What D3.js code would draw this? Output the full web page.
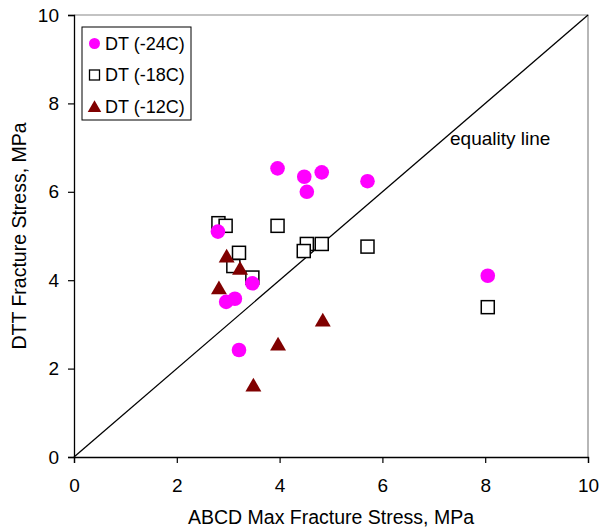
<!DOCTYPE html>
<html>
<head>
  <script src="https://d3js.org/d3.v7.min.js"></script>
  <style>
    body { margin: 0; background: #fff; }
    svg { display: block; font-family: "Liberation Sans", Arial, sans-serif; }
  </style>
</head>
<body>
<script>
  // DT (-24C) points [ABCD, DTT]
  const dt24 = [
    [2.80, 5.10], [3.96, 6.53], [4.48, 6.34], [4.82, 6.44], [4.53, 6.00],
    [5.71, 6.24], [3.47, 3.93], [2.96, 3.51], [3.13, 3.58], [3.21, 2.42],
    [8.05, 4.10]
  ];
  // DT (-18C)
  const dt18 = [
    [2.81, 5.29], [2.95, 5.23], [3.96, 5.23], [3.21, 4.62], [3.10, 4.32],
    [3.47, 4.06], [4.53, 4.82], [4.82, 4.82], [4.47, 4.66], [5.71, 4.76],
    [8.05, 3.39]
  ];
  // DT (-12C)
  const dt12 = [
    [2.97, 4.55], [3.23, 4.27], [2.82, 3.83], [4.84, 3.10], [3.97, 2.56],
    [3.49, 1.63]
  ];
  const equality = [[0, 0], [10, 10]];
  const xTicks = [0, 2, 4, 6, 8, 10];
  const yTicks = [0, 2, 4, 6, 8, 10];
  const legendLabels = ["DT (-24C)", "DT (-18C)", "DT (-12C)"];

  const W = 599, H = 531;
  const margin = { top: 15, right: 11, bottom: 74, left: 74 };
  const width = W - margin.left - margin.right;
  const height = H - margin.top - margin.bottom;

  const svg = d3.select("body").append("svg")
    .attr("width", W)
    .attr("height", H);

  const g = svg.append("g")
    .attr("transform", `translate(${margin.left},${margin.top})`);

  const x = d3.scaleLinear().domain([0, 10]).range([0, width]);
  const y = d3.scaleLinear().domain([0, 10]).range([height, 0]);

  // frame top/right in gray
  g.append("path")
    .attr("d", `M0,0H${width}V${height}`)
    .attr("fill", "none")
    .attr("stroke", "#888")
    .attr("stroke-width", 1.2);

  // axes
  const xAxis = g.append("g")
    .attr("transform", `translate(0,${height})`)
    .call(d3.axisBottom(x).tickValues(xTicks).tickSize(6).tickPadding(16).tickFormat(d3.format("d")));
  const yAxis = g.append("g")
    .call(d3.axisLeft(y).tickValues(yTicks).tickSize(6).tickPadding(9).tickFormat(d3.format("d")));

  [xAxis, yAxis].forEach(a => {
    a.select(".domain").attr("stroke", "#000").attr("stroke-width", 1.3);
    a.selectAll(".tick line").attr("stroke", "#000").attr("stroke-width", 1.2);
    a.selectAll(".tick text")
      .attr("fill", "#000")
      .style("font-size", "19px")
      .style("font-family", "'Liberation Sans', Arial, sans-serif");
  });

  // equality line
  g.append("path")
    .datum(equality)
    .attr("fill", "none")
    .attr("stroke", "#000")
    .attr("stroke-width", 1.3)
    .attr("d", d3.line().x(d => x(d[0])).y(d => y(d[1])));

  g.append("text")
    .attr("x", 376)
    .attr("y", 130)
    .style("font-size", "19px")
    .text("equality line");

  const tri = d3.symbol().type(d3.symbolTriangle);

  // squares
  g.selectAll(".sq")
    .data(dt18)
    .join("rect")
    .attr("x", d => x(d[0]) - 6.5)
    .attr("y", d => y(d[1]) - 6.5)
    .attr("width", 13)
    .attr("height", 13)
    .attr("fill", "#fff")
    .attr("stroke", "#000")
    .attr("stroke-width", 1.5);

  // circles
  g.selectAll(".ci")
    .data(dt24)
    .join("circle")
    .attr("cx", d => x(d[0]))
    .attr("cy", d => y(d[1]))
    .attr("r", 7.3)
    .attr("fill", "#ff00ff");

  // triangles
  g.selectAll(".tr")
    .data(dt12)
    .join("path")
    .attr("transform", d => `translate(${x(d[0])},${y(d[1]) + 2})`)
    .attr("d", tri.size(110))
    .attr("fill", "#800000");

  // axis titles
  svg.append("text")
    .attr("x", margin.left + width / 2)
    .attr("y", 524)
    .attr("text-anchor", "middle")
    .style("font-size", "19.5px")
    .text("ABCD Max Fracture Stress, MPa");

  svg.append("text")
    .attr("transform", `translate(26,${margin.top + height / 2}) rotate(-90)`)
    .attr("text-anchor", "middle")
    .style("font-size", "19.5px")
    .text("DTT Fracture Stress, MPa");

  // legend
  const lg = svg.append("g").attr("transform", "translate(82,27)");
  lg.append("rect")
    .attr("width", 109)
    .attr("height", 93)
    .attr("fill", "#fff")
    .attr("stroke", "#000")
    .attr("stroke-width", 1);

  const rows = [16.5, 48, 79.5];
  lg.append("circle").attr("cx", 12.5).attr("cy", rows[0]).attr("r", 5.5).attr("fill", "#ff00ff");
  lg.append("rect").attr("x", 7.5).attr("y", rows[1] - 5).attr("width", 10).attr("height", 10)
    .attr("fill", "#fff").attr("stroke", "#000").attr("stroke-width", 1.3);
  lg.append("path").attr("transform", `translate(12.5,${rows[2] + 1.5})`)
    .attr("d", tri.size(80)).attr("fill", "#800000");

  lg.selectAll(".lt")
    .data(legendLabels)
    .join("text")
    .attr("x", 23)
    .attr("y", (d, i) => rows[i])
    .attr("dy", "0.36em")
    .style("font-size", "18px")
    .text(d => d);
</script>
</body>
</html>
